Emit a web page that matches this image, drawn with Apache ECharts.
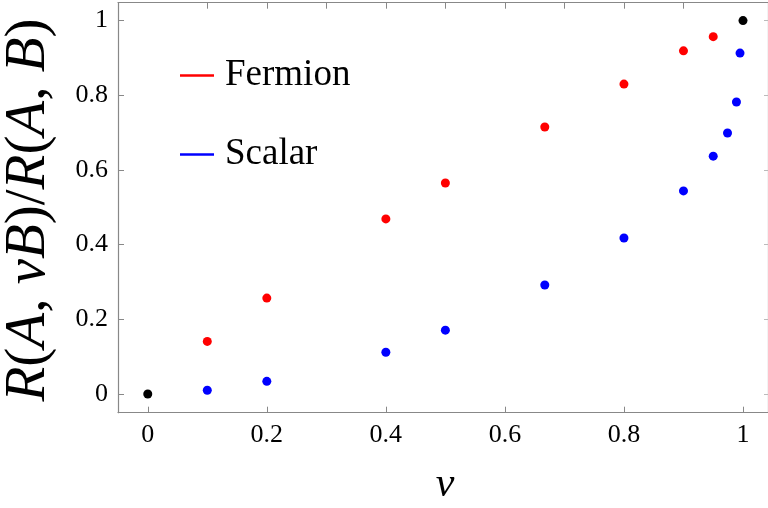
<!DOCTYPE html>
<html>
<head>
<meta charset="utf-8">
<script src="https://cdn.jsdelivr.net/npm/echarts@6/dist/echarts.min.js"></script>
<style>html,body{margin:0;padding:0;background:#fff}#c{width:768px;height:508px}</style>
</head>
<body>
<div id="c"></div>
<script>
const vFermion = [0.1, 0.2, 0.4, 0.5, 0.667, 0.8, 0.9, 0.95];
const rFermion = [0.141, 0.257, 0.469, 0.565, 0.715, 0.830, 0.919, 0.957];
const vScalar = [0.1, 0.2, 0.4, 0.5, 0.667, 0.8, 0.9, 0.95, 0.974, 0.989, 0.995];
const rScalar = [0.010, 0.034, 0.112, 0.171, 0.292, 0.418, 0.544, 0.637, 0.699, 0.782, 0.913];
const vLimit = [0, 1];
const rLimit = [0, 1];
const xTickValues = [0, 0.2, 0.4, 0.6, 0.8, 1];
const yTickValues = [0, 0.2, 0.4, 0.6, 0.8, 1];
const topTickValues = [0.1, 0.2, 0.3, 0.4, 0.5, 0.6, 0.7, 0.8, 0.9];
const seriesNames = ['Fermion', 'Scalar'];

const FONT = 'Liberation Serif';
const AXIS = '#888';
const zip = (a, b) => a.map((v, i) => [v, b[i]]);

const chart = echarts.init(document.getElementById('c'), null, {renderer: 'canvas'});
chart.setOption({
  animation: false,
  backgroundColor: '#fff',
  grid: {left: 118, top: 2.7, width: 652, height: 410, containLabel: false},
  xAxis: [{
    type: 'value', min: -0.05, max: 1.042, position: 'bottom',
    splitLine: {show: false},
    axisLine: {onZero: false, lineStyle: {color: AXIS, width: 1.2}},
    axisTick: {inside: true, length: 6, customValues: xTickValues, lineStyle: {color: AXIS}},
    axisLabel: {customValues: xTickValues, margin: 9, color: '#000', fontFamily: FONT, fontSize: 26,
      formatter: v => String(v)}
  }, {
    type: 'value', min: -0.05, max: 1.042, position: 'top',
    splitLine: {show: false},
    axisLine: {show: true, onZero: false, lineStyle: {color: AXIS, width: 1.2}},
    axisTick: {inside: true, length: 6, customValues: topTickValues, lineStyle: {color: AXIS}},
    axisLabel: {show: false}
  }],
  yAxis: [{
    type: 'value', min: -0.05, max: 1.048, position: 'left',
    splitLine: {show: false},
    axisLine: {show: true, onZero: false, lineStyle: {color: AXIS, width: 1.2}},
    axisTick: {show: true, inside: true, length: 6, customValues: yTickValues, lineStyle: {color: AXIS}},
    axisLabel: {customValues: yTickValues, margin: 10, color: '#000', fontFamily: FONT, fontSize: 26,
      formatter: v => String(v)}
  }, {
    type: 'value', min: -0.05, max: 1.048, position: 'right',
    splitLine: {show: false},
    axisLine: {show: true, onZero: false, lineStyle: {color: AXIS, width: 1.2}},
    axisTick: {show: true, inside: true, length: 4, customValues: yTickValues, lineStyle: {color: '#bbb'}},
    axisLabel: {show: false}
  }],
  legend: {
    data: seriesNames,
    orient: 'vertical', left: 175, top: 52,
    icon: 'rect', itemWidth: 34, itemHeight: 2.5, itemGap: 42,
    textStyle: {fontFamily: FONT, fontSize: 37, color: '#000', padding: [0, 0, 8, 6]}
  },
  graphic: [{
    type: 'text', x: 29, y: 210, rotation: Math.PI / 2,
    style: {
      text: '{i|R}{n|(}{i|A}{n|, }{i|vB}{n|)/}{i|R}{n|(}{i|A}{n|, }{i|B}{n|)}',
      align: 'center', verticalAlign: 'middle',
      rich: {
        i: {fontFamily: FONT, fontStyle: 'italic', fontSize: 57, fill: '#000'},
        n: {fontFamily: FONT, fontSize: 57, fill: '#000'}
      }
    }
  }, {
    type: 'text', x: 445, y: 485,
    style: {text: 'v', fontFamily: FONT, fontStyle: 'italic', fontSize: 42, fill: '#000',
      align: 'center', verticalAlign: 'middle'}
  }],
  series: [{
    name: seriesNames[0], type: 'scatter', symbolSize: 9,
    itemStyle: {color: '#ff0000', opacity: 1},
    data: zip(vFermion, rFermion)
  }, {
    name: seriesNames[1], type: 'scatter', symbolSize: 9,
    itemStyle: {color: '#0000ff', opacity: 1},
    data: zip(vScalar, rScalar)
  }, {
    name: 'limit', type: 'scatter', symbolSize: 9,
    itemStyle: {color: '#000', opacity: 1},
    data: zip(vLimit, rLimit)
  }]
});
</script>
</body>
</html>
